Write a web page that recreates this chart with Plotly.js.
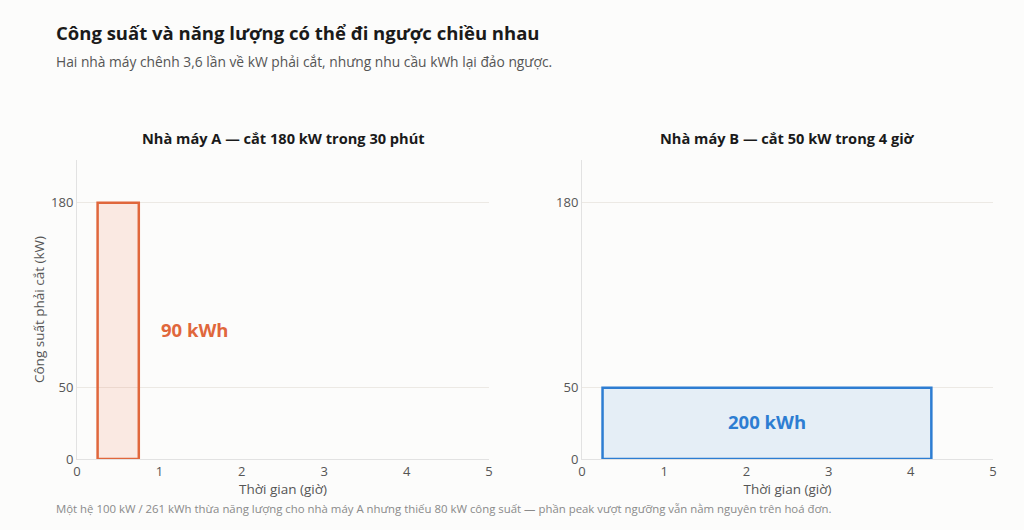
<!DOCTYPE html>
<html>
<head>
<meta charset="utf-8">
<script src="https://cdn.plot.ly/plotly-3.0.1.min.js"></script>
<style>
  html, body { margin: 0; padding: 0; background: #fcfcfb; }
  #chart { width: 1024px; height: 530px; }
</style>
</head>
<body>
<div id="chart"></div>
<script>
/* Data — two plants, one cut-back block each */
const plants    = ['Nhà máy A — cắt 180 kW trong 30 phút', 'Nhà máy B — cắt 50 kW trong 4 giờ'];
const startHour = [0.25, 0.25];
const duration  = [0.5, 4];
const cutKW     = [180, 50];
const energyLbl = ['90 kWh', '200 kWh'];
const yTicks    = [0, 50, 180];
const xTicks    = [0, 1, 2, 3, 4, 5];

const COLORS = {
  text:   '#1a1a1a',
  muted:  '#555555',
  faint:  '#8a8a8a',
  grid:   '#ece9e4',
  axis:   '#e2e2e2',
  orange: '#E0673C',
  orangeBg: 'rgba(240,110,60,0.13)',
  blue:   '#2D7DD2',
  blueBg: 'rgba(45,125,210,0.11)',
};
const FONT = 'Open Sans, Noto Sans, sans-serif';

const traces = [0, 1].map(function (i) {
  const line = i === 0 ? COLORS.orange : COLORS.blue;
  const fill = i === 0 ? COLORS.orangeBg : COLORS.blueBg;
  return {
    type: 'bar',
    x: [startHour[i] + duration[i] / 2],
    y: [cutKW[i]],
    width: [duration[i]],
    marker: { color: fill, line: { color: line, width: 2.5 } },
    xaxis: i === 0 ? 'x' : 'x2',
    yaxis: i === 0 ? 'y' : 'y2',
    hoverinfo: 'skip',
    showlegend: false,
  };
});

const axisX = {
  range: [0, 5],
  tickvals: xTicks,
  showgrid: false,
  zeroline: false,
  showline: true,
  linecolor: COLORS.axis,
  tickfont: { size: 13, color: COLORS.muted },
  title: { text: 'Thời gian (giờ)', font: { size: 13.5, color: COLORS.muted }, standoff: 1 },
};
const axisY = {
  range: [0, 210],
  tickvals: yTicks,
  gridcolor: COLORS.grid,
  zeroline: false,
  showline: true,
  linecolor: COLORS.axis,
  tickfont: { size: 13, color: COLORS.muted },
};

const layout = {
  width: 1024,
  height: 530,
  paper_bgcolor: '#fcfcfb',
  plot_bgcolor: '#fcfcfb',
  font: { family: FONT, color: COLORS.text },
  margin: { t: 160, r: 31, b: 71, l: 77 },
  xaxis:  Object.assign({}, axisX, { domain: [0, 0.4498], anchor: 'y' }),
  xaxis2: Object.assign({}, axisX, { domain: [0.5513, 1], anchor: 'y2' }),
  yaxis:  Object.assign({}, axisY, {
    anchor: 'x',
    title: { text: 'Công suất phải cắt (kW)', font: { size: 13.5, color: COLORS.muted }, standoff: 3 },
  }),
  yaxis2: Object.assign({}, axisY, { anchor: 'x2' }),
  annotations: [
    { xref: 'paper', yref: 'paper', x: -0.025, y: 1.425, xanchor: 'left', yanchor: 'middle',
      text: '<b>Công suất và năng lượng có thể đi ngược chiều nhau</b>',
      showarrow: false, font: { size: 18.5, color: COLORS.text } },
    { xref: 'paper', yref: 'paper', x: -0.025, y: 1.328, xanchor: 'left', yanchor: 'middle',
      text: 'Hai nhà máy chênh 3,6 lần về kW phải cắt, nhưng nhu cầu kWh lại đảo ngược.',
      showarrow: false, font: { size: 13.8, color: COLORS.muted } },
    { xref: 'paper', yref: 'paper', x: 0.2249, y: 1.072, xanchor: 'center', yanchor: 'middle',
      text: '<b>' + plants[0] + '</b>', showarrow: false, font: { size: 14.6, color: COLORS.text } },
    { xref: 'paper', yref: 'paper', x: 0.7756, y: 1.072, xanchor: 'center', yanchor: 'middle',
      text: '<b>' + plants[1] + '</b>', showarrow: false, font: { size: 14.6, color: COLORS.text } },
    { xref: 'x', yref: 'y', x: 1.0, y: 91, xanchor: 'left', yanchor: 'middle',
      text: '<b>' + energyLbl[0] + '</b>', showarrow: false, font: { size: 18.5, color: COLORS.orange } },
    { xref: 'x2', yref: 'y2', x: startHour[1] + duration[1] / 2, y: 26, xanchor: 'center', yanchor: 'middle',
      text: '<b>' + energyLbl[1] + '</b>', showarrow: false, font: { size: 18.5, color: COLORS.blue } },
    { xref: 'paper', yref: 'paper', x: -0.025, y: -0.164, xanchor: 'left', yanchor: 'middle',
      text: 'Một hệ 100 kW / 261 kWh thừa năng lượng cho nhà máy A nhưng thiếu 80 kW công suất — phần peak vượt ngưỡng vẫn nằm nguyên trên hoá đơn.',
      showarrow: false, font: { size: 11.4, color: COLORS.faint } },
  ],
};

Plotly.newPlot('chart', traces, layout, { displayModeBar: false, staticPlot: true });
</script>
</body>
</html>
